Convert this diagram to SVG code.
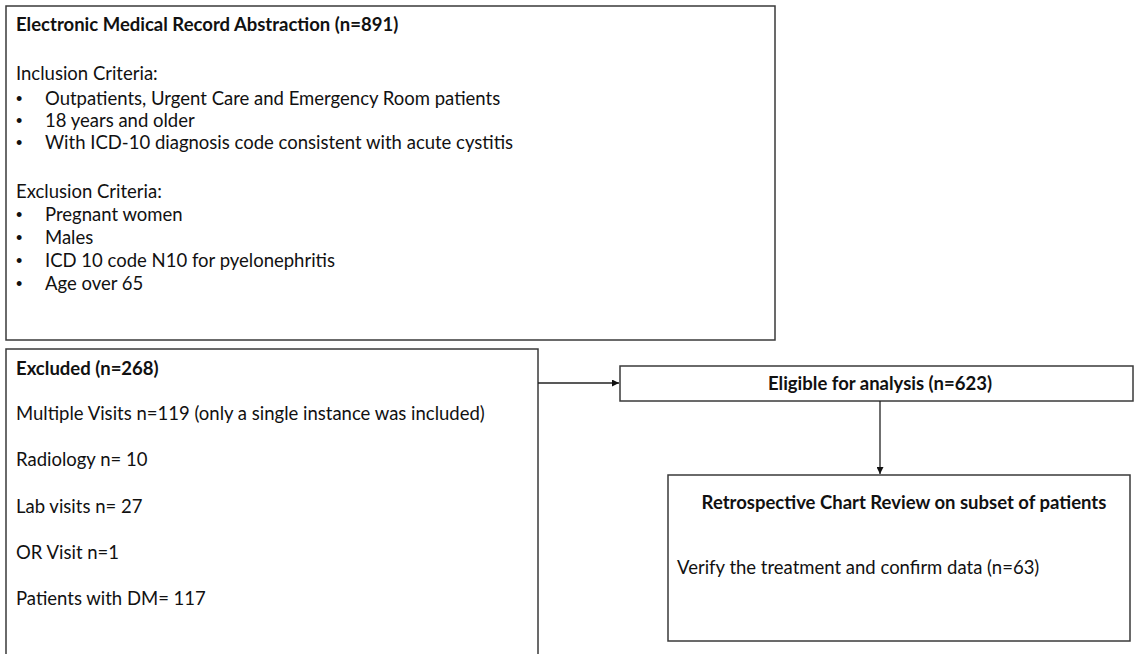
<svg xmlns="http://www.w3.org/2000/svg" width="1135" height="654" viewBox="0 0 1135 654">
<style>
.box{fill:#fff;stroke:#3a3a3a;stroke-width:1.5}
.t{font-family:Lato,"Liberation Sans",sans-serif;font-size:18.5px;fill:#111}
.b{font-weight:bold}
.bu{font-family:"Liberation Sans",sans-serif;font-size:18px;fill:#111}
.c{stroke:#222;stroke-width:1.3;fill:none}
</style>
<defs>
<marker id="ah" viewBox="0 0 10 10" refX="10" refY="5" markerWidth="7" markerHeight="7" markerUnits="userSpaceOnUse" orient="auto">
<path d="M0,0 L10,5 L0,10 z" fill="#111"/>
</marker>
</defs>
<rect width="1135" height="654" fill="#fff"/>
<g id="emr">
<rect class="box" x="6" y="6" width="769" height="334"/>
<text class="t b" x="16" y="31">Electronic Medical Record Abstraction (n=891)</text>
<text class="t" x="16" y="80">Inclusion Criteria:</text>
<text class="bu" x="16" y="105">•</text>
<text class="t" x="45" y="105">Outpatients, Urgent Care and Emergency Room patients</text>
<text class="bu" x="16" y="127">•</text>
<text class="t" x="45" y="127">18 years and older</text>
<text class="bu" x="16" y="149">•</text>
<text class="t" x="45" y="149">With ICD-10 diagnosis code consistent with acute cystitis</text>
<text class="t" x="16" y="198">Exclusion Criteria:</text>
<text class="bu" x="16" y="221">•</text>
<text class="t" x="45" y="221">Pregnant women</text>
<text class="bu" x="16" y="244">•</text>
<text class="t" x="45" y="244">Males</text>
<text class="bu" x="16" y="267">•</text>
<text class="t" x="45" y="267">ICD 10 code N10 for pyelonephritis</text>
<text class="bu" x="16" y="290">•</text>
<text class="t" x="45" y="290">Age over 65</text>
</g>
<g id="excluded">
<rect class="box" x="6" y="349" width="532" height="320"/>
<text class="t b" x="16" y="375">Excluded (n=268)</text>
<text class="t" x="16" y="420">Multiple Visits n=119 (only a single instance was included)</text>
<text class="t" x="16" y="466">Radiology n= 10</text>
<text class="t" x="16" y="513">Lab visits n= 27</text>
<text class="t" x="16" y="559">OR Visit n=1</text>
<text class="t" x="16" y="605">Patients with DM= 117</text>
</g>
<g id="eligible">
<rect class="box" x="620" y="366" width="513" height="35"/>
<text class="t b" x="880" y="390" text-anchor="middle">Eligible for analysis (n=623)</text>
</g>
<g id="review">
<rect class="box" x="668" y="475" width="462" height="166"/>
<text class="t b" x="904" y="509" text-anchor="middle">Retrospective Chart Review on subset of patients</text>
<text class="t" x="677" y="574">Verify the treatment and confirm data (n=63)</text>
</g>
<g id="connectors">
<line class="c" x1="538" y1="383" x2="619" y2="383" marker-end="url(#ah)"/>
<line class="c" x1="880" y1="401" x2="880" y2="474" marker-end="url(#ah)"/>
</g>
</svg>
